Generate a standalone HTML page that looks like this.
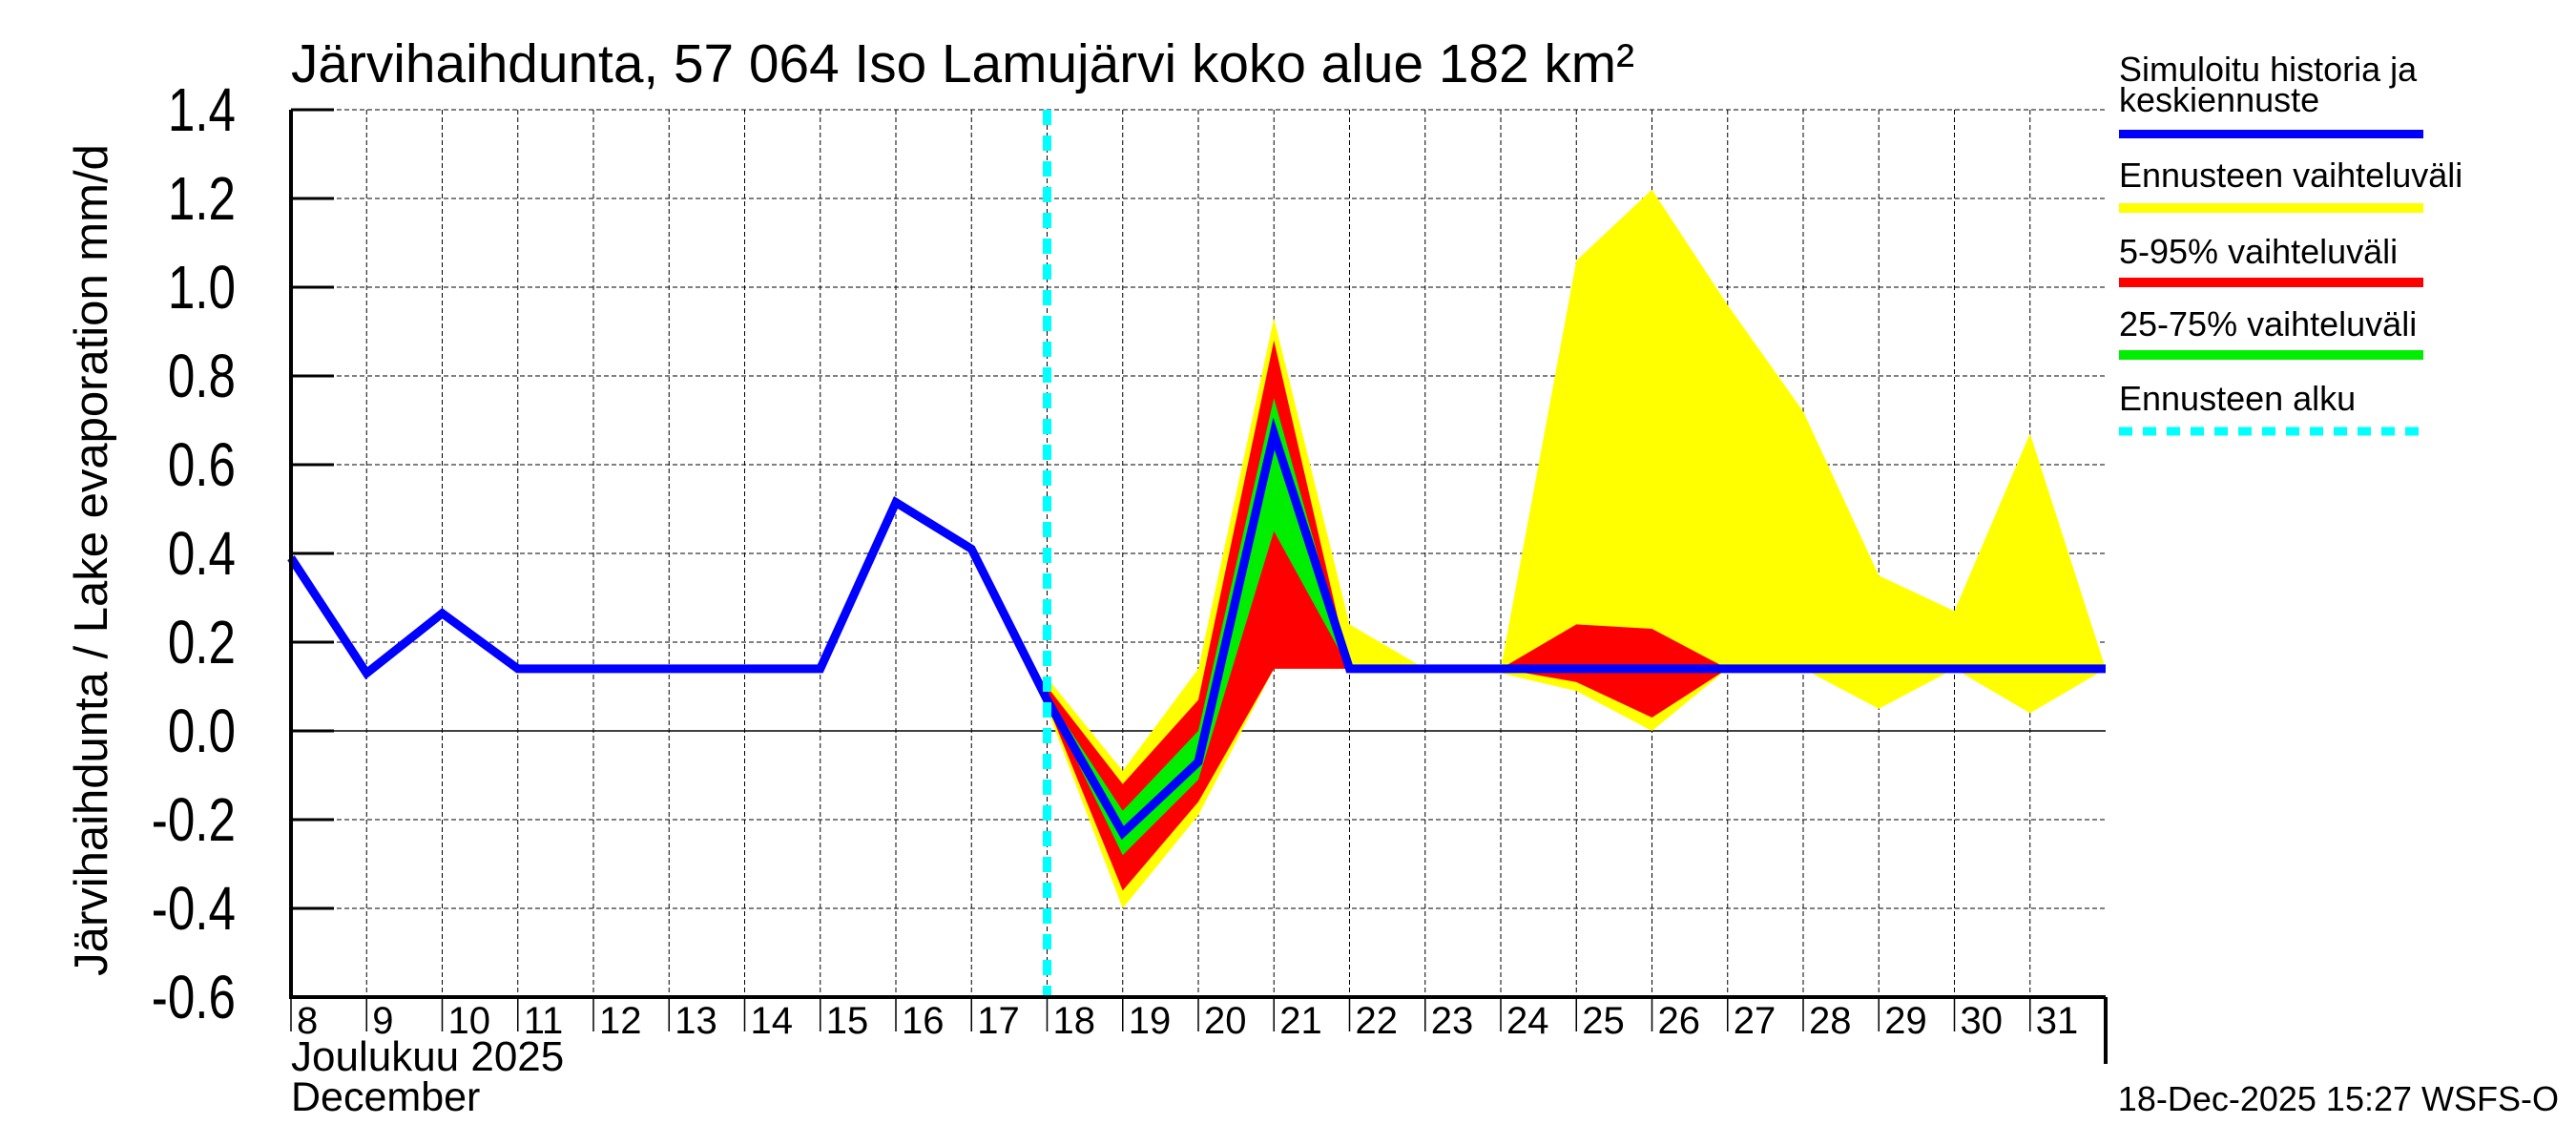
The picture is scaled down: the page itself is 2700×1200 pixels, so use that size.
<!DOCTYPE html>
<html><head><meta charset="utf-8"><style>
html,body{margin:0;padding:0;background:#fff}
svg{display:block;font-family:"Liberation Sans",sans-serif}
</style></head><body>
<svg id="chart" width="2700" height="1200" viewBox="0 0 2700 1200">
<text x="305" y="86" font-size="57" textLength="1408" lengthAdjust="spacingAndGlyphs">Järvihaihdunta, 57 064 Iso Lamujärvi koko alue 182 km²</text>
<text transform="translate(112,587) rotate(-90)" text-anchor="middle" font-size="49">Järvihaihdunta / Lake evaporation   mm/d</text>
<g id="grid"></g><g id="bands"></g><g id="lines"></g><g id="axes"></g>
<text x="305" y="1122" font-size="44">Joulukuu  2025</text>
<text x="305" y="1164" font-size="43">December</text>
<text x="2682" y="1164" font-size="36" text-anchor="end">18-Dec-2025 15:27 WSFS-O</text>
<g font-size="36">
<text x="2221" y="85">Simuloitu historia ja</text>
<text x="2221" y="117">keskiennuste</text>
<rect x="2221" y="136" width="319" height="9" fill="#0000ff"/>
<text x="2221" y="196">Ennusteen vaihteluväli</text>
<rect x="2221" y="213" width="319" height="10" fill="#ffff00"/>
<text x="2221" y="276">5-95% vaihteluväli</text>
<rect x="2221" y="291" width="319" height="10" fill="#ff0000"/>
<text x="2221" y="352">25-75% vaihteluväli</text>
<rect x="2221" y="367" width="319" height="10" fill="#00ee00"/>
<text x="2221" y="430">Ennusteen alku</text>
<line x1="2221" y1="452" x2="2540" y2="452" stroke="#00ffff" stroke-width="9" stroke-dasharray="14,11"/>
</g>
</svg>
<script>
const histDays=[8,9,10,11,12,13,14,15,16,17,18,19,20,21,22,23,24,25,26,27,28,29,30,31,32];
const histVals=[0.39,0.13,0.265,0.14,0.14,0.14,0.14,0.14,0.515,0.41,0.07,-0.23,-0.07,0.67,0.14,0.14,0.14,0.14,0.14,0.14,0.14,0.14,0.14,0.14,0.14];
const fcDays=[18,19,20,21,22,23,24,25,26,27,28,29,30,31,32];
const yelHi=[0.12,-0.09,0.14,0.93,0.24,0.14,0.14,1.06,1.22,0.96,0.72,0.35,0.27,0.67,0.14];
const yelLo=[0.05,-0.40,-0.19,0.14,0.14,0.14,0.13,0.09,0.0,0.14,0.14,0.05,0.14,0.04,0.14];
const redHi=[0.10,-0.12,0.07,0.88,0.14,0.14,0.14,0.24,0.23,0.14,0.14,0.14,0.14,0.14,0.14];
const redLo=[0.06,-0.36,-0.16,0.14,0.14,0.14,0.14,0.11,0.03,0.14,0.14,0.14,0.14,0.14,0.14];
const grnHi=[0.08,-0.18,0.0,0.75,0.14,0.14,0.14,0.14,0.14,0.14,0.14,0.14,0.14,0.14,0.14];
const grnLo=[0.07,-0.28,-0.11,0.45,0.14,0.14,0.14,0.14,0.14,0.14,0.14,0.14,0.14,0.14,0.14];
const yTicks=["1.4","1.2","1.0","0.8","0.6","0.4","0.2","0.0","-0.2","-0.4","-0.6"];
const xTicks=[8,9,10,11,12,13,14,15,16,17,18,19,20,21,22,23,24,25,26,27,28,29,30,31];
const forecastStart=18;
const L=305,R=2207,T=115,B=1045;
const X=d=>L+(d-8)*(R-L)/24;
const Y=v=>T+(1.4-v)*(B-T)/2.0;
const NS="http://www.w3.org/2000/svg";
function mk(tag,parent,attrs){const e=document.createElementNS(NS,tag);for(const k in attrs)e.setAttribute(k,attrs[k]);parent.appendChild(e);return e;}
const grid=document.getElementById('grid'),bands=document.getElementById('bands'),lines=document.getElementById('lines'),axes=document.getElementById('axes');
yTicks.forEach(t=>{const v=parseFloat(t),y=Y(v);
 const g=mk('line',grid,{x1:L,x2:R,y1:y,y2:y,stroke:'#000','stroke-width':v===0?1.5:1,'stroke-dasharray':v===0?'none':'5,3'});
 
 
 const tk=mk('line',axes,{x1:L,x2:L+45,y1:y,y2:y,stroke:'#000','stroke-width':3});
 
 
 const tx=mk('text',axes,{x:0,y:0,'font-size':64,'text-anchor':'end',transform:`translate(${L-58},${y+22}) scale(0.8,1)`});tx.textContent=t;
 
 
});
xTicks.forEach(d=>{const x=X(d);
 if(d>8){const g=mk('line',grid,{x1:x,x2:x,y1:T,y2:B,stroke:'#000','stroke-width':1,'stroke-dasharray':'5,3'});
 
 }
 const tk=mk('line',axes,{x1:x,x2:x,y1:B,y2:B+36,stroke:'#000','stroke-width':1.5});
 
 
 const tx=mk('text',axes,{x:x+6,y:B+38,'font-size':40});tx.textContent=d;
 
 
});
function band(hi,lo,color,name){
 let p=fcDays.map((d,i)=>X(d)+','+Y(hi[i]));
 for(let i=fcDays.length-1;i>=0;i--)p.push(X(fcDays[i])+','+Y(lo[i]));
 const e=mk('polygon',bands,{points:p.join(' '),fill:color});
 
 
}
band(yelHi,yelLo,'#ffff00','band-range');
band(redHi,redLo,'#ff0000','band-5-95');
band(grnHi,grnLo,'#00ee00','band-25-75');
const pl=mk('polyline',lines,{points:histDays.map((d,i)=>X(d)+','+Y(histVals[i])).join(' '),fill:'none',stroke:'#0000ff','stroke-width':9,'stroke-linejoin':'miter'});


const fs=mk('line',lines,{x1:X(forecastStart),x2:X(forecastStart),y1:T,y2:B,stroke:'#00ffff','stroke-width':9,'stroke-dasharray':'16,11'});


const ax=mk('path',axes,{d:`M${L},${T} L${L},${B} L${R},${B} M${R},${B} L${R},1115`,fill:'none',stroke:'#000','stroke-width':4});


</script>
</body></html>
